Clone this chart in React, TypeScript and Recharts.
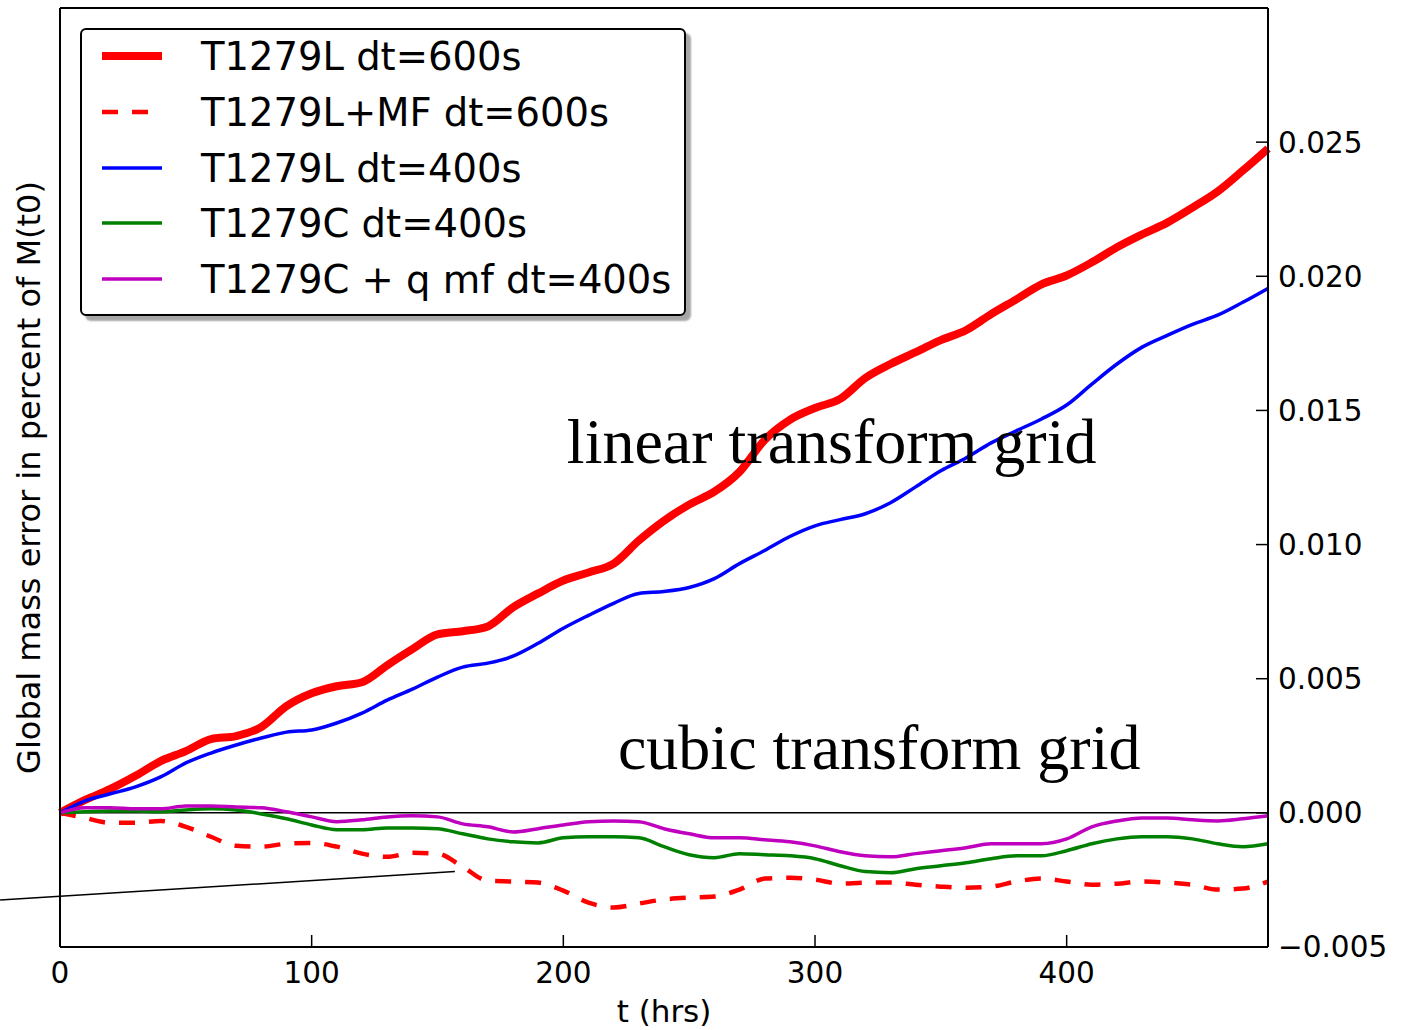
import React from 'react';
import { LineChart, Line, XAxis, YAxis, ReferenceLine, ReferenceDot, Legend } from 'recharts';

const hours = [0, 10, 20, 30, 40, 50, 60, 70, 80, 90, 100, 110, 120, 130, 140, 150, 160, 170, 180, 190, 200, 210, 220, 230, 240, 250, 260, 270, 280, 290, 300, 310, 320, 330, 340, 350, 360, 370, 380, 390, 400, 410, 420, 430, 440, 450, 460, 470, 480];

const lin600 = [0, 0.00048, 0.00089, 0.00138, 0.00193, 0.0023, 0.00275, 0.00286, 0.0032, 0.00398, 0.00446, 0.00472, 0.00487, 0.0055, 0.0061, 0.00665, 0.00677, 0.00695, 0.00766, 0.00818, 0.00866, 0.00896, 0.00929, 0.01015, 0.01089, 0.01149, 0.01197, 0.01271, 0.0139, 0.01465, 0.01509, 0.01543, 0.01621, 0.01673, 0.01717, 0.01762, 0.01799, 0.01859, 0.01914, 0.0197, 0.02003, 0.02052, 0.02108, 0.02156, 0.022, 0.02256, 0.02316, 0.02394, 0.02476];

const linMF600 = [0, -0.00019, -0.00037, -0.00037, -0.0003, -0.00052, -0.00089, -0.00123, -0.00126, -0.00115, -0.00112, -0.00126, -0.00152, -0.00164, -0.00149, -0.00152, -0.00201, -0.00253, -0.00256, -0.0026, -0.0029, -0.00335, -0.00353, -0.00338, -0.00323, -0.00316, -0.00312, -0.00286, -0.00245, -0.00242, -0.00249, -0.00264, -0.0026, -0.0026, -0.00268, -0.00275, -0.00279, -0.00275, -0.00256, -0.00245, -0.00256, -0.00268, -0.00264, -0.00256, -0.0026, -0.00268, -0.00286, -0.00282, -0.00256];

const lin400 = [0, 0.00045, 0.00071, 0.00097, 0.00134, 0.00186, 0.00223, 0.00253, 0.00279, 0.00301, 0.00309, 0.00335, 0.00372, 0.0042, 0.00461, 0.00506, 0.00543, 0.00558, 0.00584, 0.00632, 0.00688, 0.00736, 0.00781, 0.00818, 0.00825, 0.0084, 0.00873, 0.00929, 0.00978, 0.0103, 0.0107, 0.01093, 0.01115, 0.01156, 0.01215, 0.01275, 0.01323, 0.01379, 0.01424, 0.01468, 0.0152, 0.01598, 0.01673, 0.01736, 0.0178, 0.01821, 0.01855, 0.01903, 0.01955];

const cub400 = [0, 0.00004, 0.00007, 0.00007, 0.00004, 0.00011, 0.00015, 0.00011, -0.00004, -0.00022, -0.00045, -0.00063, -0.00063, -0.00056, -0.00056, -0.00059, -0.00078, -0.00097, -0.00108, -0.00112, -0.00093, -0.00089, -0.00089, -0.00093, -0.00126, -0.00156, -0.00167, -0.00152, -0.00156, -0.0016, -0.00171, -0.00197, -0.00219, -0.00223, -0.00208, -0.00197, -0.00186, -0.00171, -0.0016, -0.0016, -0.00141, -0.00115, -0.00097, -0.00089, -0.00089, -0.00097, -0.00115, -0.00126, -0.00115];

const cubQmf400 = [0, 0.00019, 0.00019, 0.00015, 0.00015, 0.00026, 0.00026, 0.00022, 0.00019, 0.00004, -0.00015, -0.00033, -0.00026, -0.00015, -0.00011, -0.00015, -0.00041, -0.00052, -0.00071, -0.00059, -0.00045, -0.00033, -0.0003, -0.00033, -0.00059, -0.00078, -0.00093, -0.00093, -0.001, -0.00108, -0.00123, -0.00145, -0.0016, -0.00164, -0.00152, -0.00141, -0.0013, -0.00115, -0.00115, -0.00115, -0.00097, -0.00052, -0.0003, -0.00019, -0.00019, -0.00026, -0.0003, -0.00022, -0.00011];

const xTicks = [0, 100, 200, 300, 400];
const yTicks = [-0.005, 0, 0.005, 0.01, 0.015, 0.02, 0.025];

const seriesKeys = ['lin600', 'linMF600', 'lin400', 'cub400', 'cubQmf400'];
const seriesNames = ['T1279L dt=600s', 'T1279L+MF dt=600s', 'T1279L dt=400s', 'T1279C dt=400s', 'T1279C + q mf dt=400s'];
const seriesColors = ['#ff0000', '#ff0000', '#0000ff', '#008000', '#bf00bf'];
const seriesWidths = [8, 4.5, 3.5, 3.5, 3.5];
const seriesDash = ['', '16 14', '', '', ''];

const seriesValues = [lin600, linMF600, lin400, cub400, cubQmf400];

const data = hours.map((t, i) => {
  const row: any = { t };
  seriesKeys.forEach((k, j) => {
    row[k] = seriesValues[j][i];
  });
  return row;
});

const FONT = '"DejaVu Sans", Verdana, sans-serif';

const fmtY = (v: number) => {
  const s = Math.abs(v).toFixed(3);
  return v < 0 ? '\u2212' + s : s;
};

const LegendBox = (props: any) => {
  const payload = props.payload || [];
  const rowCenters = [26, 82, 138, 193, 249];
  const ordered = seriesKeys
    .map((k) => payload.find((p: any) => p.dataKey === k))
    .filter((p: any) => !!p);
  return (
    <div
      style={{
        width: 602,
        height: 284,
        border: '2px solid #000',
        borderRadius: 6,
        background: '#fff',
        boxShadow: '5px 5px 2px rgba(0,0,0,0.35)',
      }}
    >
      <svg width={602} height={284} style={{ display: 'block' }}>
        {ordered.map((p: any, i: number) => {
          const idx = seriesKeys.indexOf(p.dataKey);
          const c = rowCenters[i];
          return (
            <g key={i}>
              <line
                x1={20}
                x2={80}
                y1={c}
                y2={c}
                stroke={seriesColors[idx]}
                strokeWidth={seriesWidths[idx]}
                strokeDasharray={seriesDash[idx] || undefined}
              />
              <text x={119} y={c + 14} fontFamily={FONT} fontSize={38.5} fill="#000">
                {seriesNames[idx]}
              </text>
            </g>
          );
        })}
      </svg>
    </div>
  );
};

const linearLabelPos = { x: 201.4, y: 0.01305 };
const cubicLabelPos = { x: 221.7, y: 0.00164 };
const arrowSegment = [
  { x: -23.8, y: -0.00325 },
  { x: 156.9, y: -0.00219 },
];

const serifText = (txt: string) => (p: any) => {
  const vb = p.viewBox || {};
  return (
    <text x={vb.x} y={vb.y} fontFamily='"Liberation Serif", "Times New Roman", serif' fontSize={64} fill="#000" textAnchor="start">
      {txt}
    </text>
  );
};

export default function App() {
  return (
    <div style={{ position: 'absolute', left: 0, top: 0, background: '#fff' }}>
      <LineChart width={1404} height={1030} data={data} margin={{ top: 7, left: 59, right: 0, bottom: 0 }}>
        <XAxis
          xAxisId="b"
          dataKey="t"
          type="number"
          domain={[0, 480]}
          ticks={xTicks}
          interval={0}
          height={83}
          orientation="bottom"
          tickSize={-12}
          tickMargin={27}
          axisLine={{ stroke: '#000', strokeWidth: 2 }}
          tickLine={{ stroke: '#000', strokeWidth: 1.5 }}
          tick={{ fontFamily: FONT, fontSize: 29.5, fill: '#000' }}
          label={{ value: 't (hrs)', position: 'insideBottom', offset: 8, fontFamily: FONT, fontSize: 31, fill: '#000' }}
        />
        <XAxis
          xAxisId="top"
          dataKey="t"
          type="number"
          domain={[0, 480]}
          ticks={xTicks}
          interval={0}
          height={1}
          orientation="top"
          tickSize={-12}
          tick={false}
          axisLine={{ stroke: '#000', strokeWidth: 2 }}
          tickLine={{ stroke: '#000', strokeWidth: 1.5 }}
        />
        <YAxis
          yAxisId="l"
          orientation="left"
          type="number"
          domain={[-0.005, 0.03]}
          ticks={yTicks}
          interval={0}
          width={1}
          tickSize={-12}
          tick={false}
          axisLine={{ stroke: '#000', strokeWidth: 2 }}
          tickLine={{ stroke: '#000', strokeWidth: 1.5 }}
          label={{
            content: (p: any) => {
              const vb = p.viewBox || {};
              const cy = vb.y + vb.height / 2;
              return (
                <text x={40} y={cy} transform={`rotate(-90 40 ${cy})`} textAnchor="middle" fontFamily={FONT} fontSize={32} fill="#000">
                  Global mass error in percent of M(t0)
                </text>
              );
            },
          }}
        />
        <YAxis
          yAxisId="r"
          orientation="right"
          type="number"
          domain={[-0.005, 0.03]}
          ticks={yTicks}
          interval={0}
          width={136}
          tickSize={-12}
          tickMargin={22}
          tickFormatter={fmtY}
          axisLine={{ stroke: '#000', strokeWidth: 2 }}
          tickLine={{ stroke: '#000', strokeWidth: 1.5 }}
          tick={{ fontFamily: FONT, fontSize: 29.5, fill: '#000' }}
        />
        <ReferenceLine xAxisId="b" yAxisId="r" y={0} stroke="#000" strokeWidth={1.5} />
        <ReferenceLine xAxisId="b" yAxisId="r" segment={arrowSegment} stroke="#000" strokeWidth={1.5} ifOverflow="visible" />
        {seriesKeys.map((k, i) => (
          <Line
            key={k}
            xAxisId="b"
            yAxisId="r"
            dataKey={k}
            name={seriesNames[i]}
            type="monotone"
            stroke={seriesColors[i]}
            strokeWidth={seriesWidths[i]}
            strokeDasharray={seriesDash[i] || undefined}
            dot={false}
            activeDot={false}
            isAnimationActive={false}
          />
        ))}
        <ReferenceDot
          xAxisId="b"
          yAxisId="r"
          x={linearLabelPos.x}
          y={linearLabelPos.y}
          r={0}
          fill="none"
          stroke="none"
          ifOverflow="visible"
          label={{ content: serifText('linear transform grid') }}
        />
        <ReferenceDot
          xAxisId="b"
          yAxisId="r"
          x={cubicLabelPos.x}
          y={cubicLabelPos.y}
          r={0}
          fill="none"
          stroke="none"
          ifOverflow="visible"
          label={{ content: serifText('cubic transform grid') }}
        />
        <Legend
          layout="vertical"
          align="center"
          verticalAlign="middle"
          content={<LegendBox />}
          wrapperStyle={{ left: 80, top: 28, width: 'auto', height: 'auto' }}
        />
      </LineChart>
    </div>
  );
}
